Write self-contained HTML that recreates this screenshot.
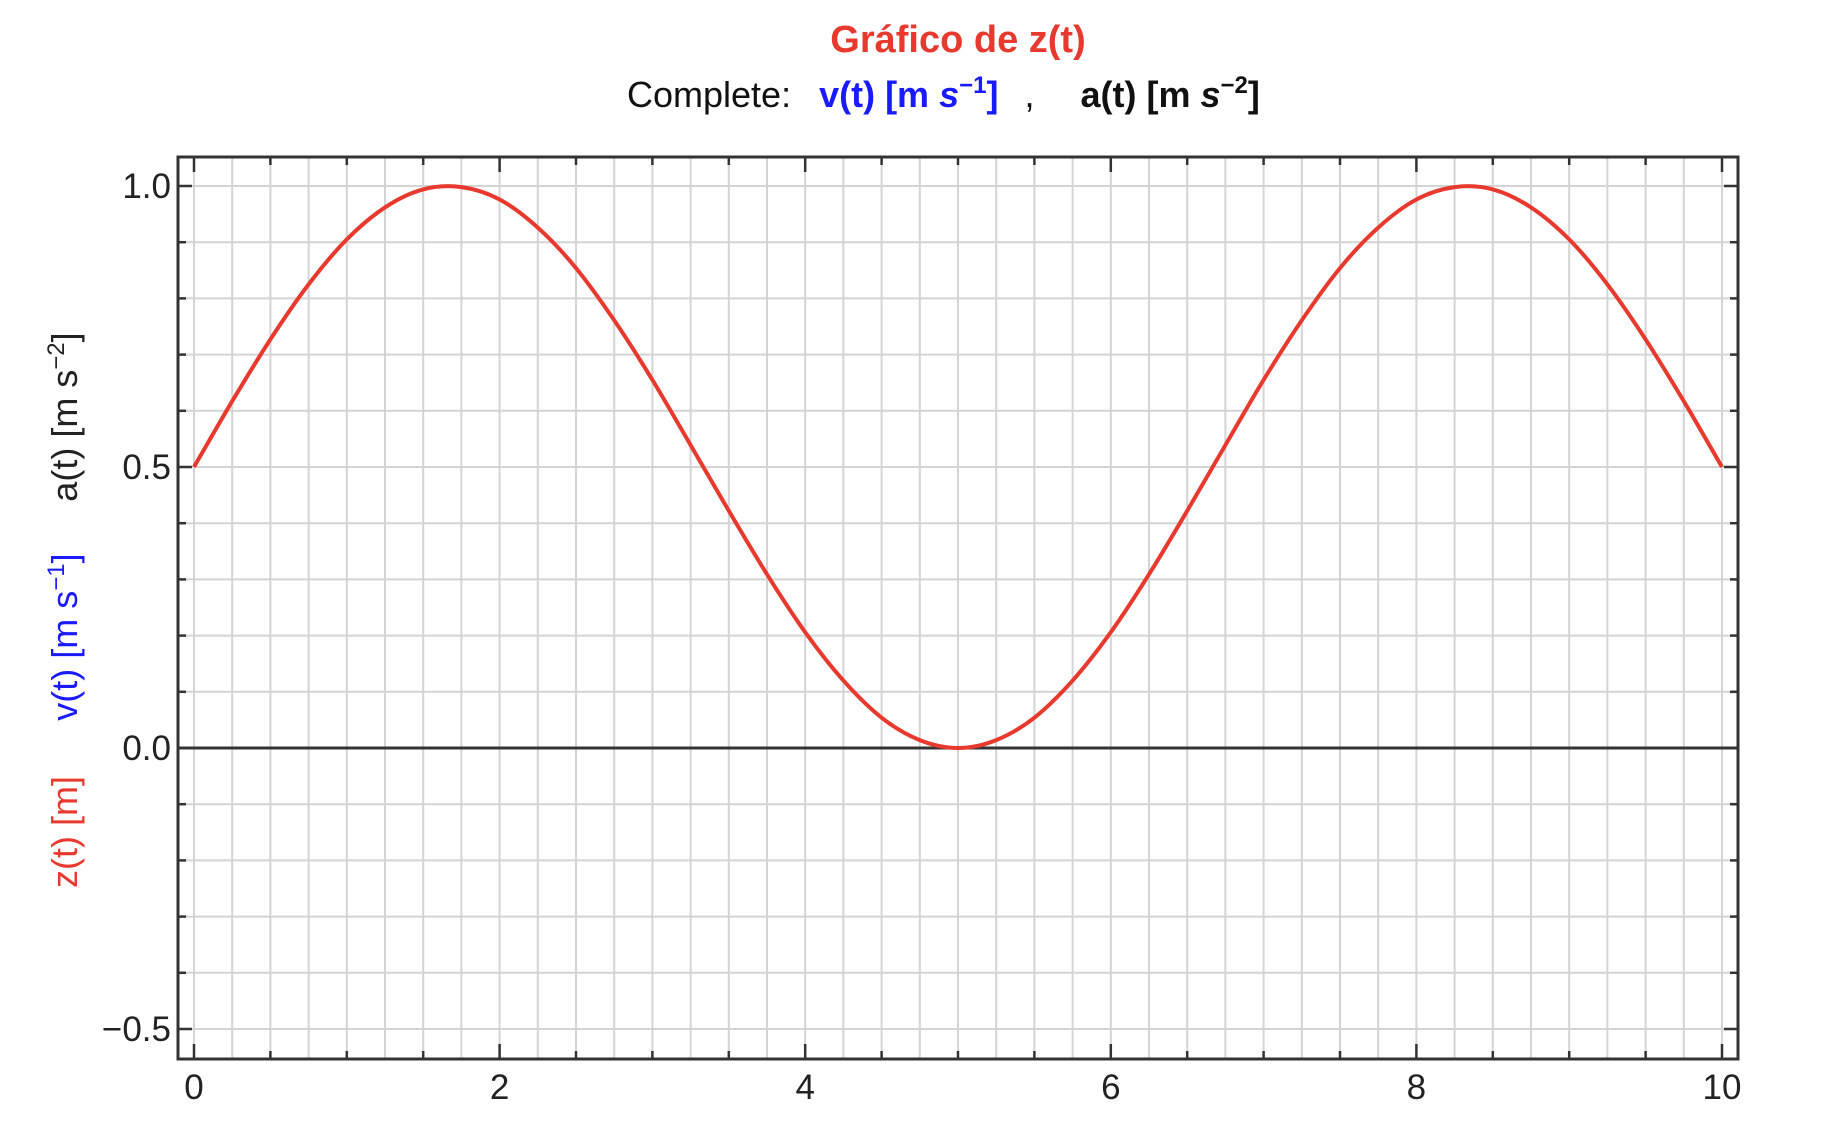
<!DOCTYPE html>
<html><head><meta charset="utf-8"><style>
html,body{margin:0;padding:0;background:#fff;}
svg{display:block;font-family:"Liberation Sans",Arial,sans-serif;}
</style></head><body>
<svg id="chart" width="1826" height="1126" viewBox="0 0 1826 1126" xmlns="http://www.w3.org/2000/svg">
<text x="958" y="52" text-anchor="middle" font-size="38" font-weight="bold" fill="#e8392e">Gráfico de z(t)</text>
<text x="627" y="107" font-size="36" fill="#111">Complete:<tspan dx="28" font-weight="bold" fill="#1a1aff">v(t) [m <tspan font-style="italic">s</tspan><tspan dy="-14" font-size="24">−1</tspan><tspan dy="14">]</tspan></tspan><tspan dx="26">,</tspan><tspan dx="46" font-weight="bold" fill="#111">a(t) [m <tspan font-style="italic">s</tspan><tspan dy="-14" font-size="24">−2</tspan><tspan dy="14">]</tspan></tspan></text>
<g id="grid"></g>
<g id="ticks"></g>
<g id="labels"></g>
<line id="zero" stroke="#333" stroke-width="3"/>
<path id="curve" fill="none" stroke="#e8392e" stroke-width="4" stroke-linejoin="round"/>
<rect x="178" y="157" width="1560" height="902" fill="none" stroke="#333" stroke-width="3"/>
<g font-size="36">
<text transform="translate(77,417) rotate(-90)" text-anchor="middle" fill="#222">a(t) [m s<tspan dy="-13" font-size="24">−2</tspan><tspan dy="13">]</tspan></text>
<text transform="translate(77,637) rotate(-90)" text-anchor="middle" fill="#1a1aff">v(t) [m s<tspan dy="-13" font-size="24">−1</tspan><tspan dy="13">]</tspan></text>
<text transform="translate(77,832) rotate(-90)" text-anchor="middle" fill="#e8392e">z(t) [m]</text>
</g>
</svg>
<script>
const tValues = [0,0.25,0.5,0.75,1,1.25,1.5,1.75,2,2.25,2.5,2.75,3,3.25,3.5,3.75,4,4.25,4.5,4.75,5,5.25,5.5,5.75,6,6.25,6.5,6.75,7,7.25,7.5,7.75,8,8.25,8.5,8.75,9,9.25,9.5,9.75,10];
const zValues = [0.5,0.617,0.727,0.825,0.905,0.962,0.994,0.998,0.976,0.926,0.854,0.761,0.655,0.539,0.422,0.309,0.206,0.120,0.054,0.014,0,0.014,0.054,0.120,0.206,0.309,0.422,0.539,0.655,0.761,0.854,0.926,0.976,0.998,0.994,0.962,0.905,0.825,0.727,0.617,0.5];
const xTickLabels = ["0","2","4","6","8","10"];
const yTickLabels = ["−0.5","0.0","0.5","1.0"];
const yTickValues = [-0.5,0,0.5,1];

const NS="http://www.w3.org/2000/svg";
const L=178,R=1738,T=157,B=1059;
function sx(t){return 194+(t-0)*152.8;}
function sy(v){return 748-v*562;}
function mk(tag,attrs,parent){const e=document.createElementNS(NS,tag);for(const k in attrs)e.setAttribute(k,attrs[k]);parent.appendChild(e);return e;}
const grid=document.getElementById('grid'),ticks=document.getElementById('ticks'),labels=document.getElementById('labels');
for(let i=0;i<=40;i++){const x=sx(i*0.25);
 const g=mk('line',{x1:x,x2:x,y1:T,y2:B,stroke:'#d4d4d4','stroke-width':2},grid);
 
 }
for(let i=-5;i<=10;i++){const y=sy(i/10);
 const g=mk('line',{x1:L,x2:R,y1:y,y2:y,stroke:'#d4d4d4','stroke-width':2},grid);
 
 }
for(let i=0;i<=20;i++){const x=sx(i*0.5);const len=(i%4===0)?15:8;
 [[B,B-len],[T,T+len]].forEach(p=>{const tk=mk('line',{x1:x,x2:x,y1:p[0],y2:p[1],stroke:'#333','stroke-width':2.5},ticks);
 
 });}
for(let i=-5;i<=10;i++){const y=sy(i/10);const len=(i%5===0)?14:8;
 [[L,L+len],[R,R-len]].forEach(p=>{const tk=mk('line',{x1:p[0],x2:p[1],y1:y,y2:y,stroke:'#333','stroke-width':2.5},ticks);
 
 });}
xTickLabels.forEach(s=>{const t=mk('text',{x:sx(parseFloat(s)),y:1099,'text-anchor':'middle','font-size':35,fill:'#222'},labels);t.textContent=s;
 
 });
yTickLabels.forEach((s,i)=>{const t=mk('text',{x:171,y:sy(yTickValues[i])+12,'text-anchor':'end','font-size':35,fill:'#222'},labels);t.textContent=s;
 
 });
const z=document.getElementById('zero');z.setAttribute('x1',L);z.setAttribute('x2',R);z.setAttribute('y1',sy(0));z.setAttribute('y2',sy(0));
const pts=tValues.map((t,i)=>[sx(t),sy(zValues[i])]);
let d='M'+pts[0][0]+','+pts[0][1];
for(let i=0;i<pts.length-1;i++){const p0=pts[Math.max(0,i-1)],p1=pts[i],p2=pts[i+1],p3=pts[Math.min(pts.length-1,i+2)];
 const c1=[p1[0]+(p2[0]-p0[0])/6,p1[1]+(p2[1]-p0[1])/6],c2=[p2[0]-(p3[0]-p1[0])/6,p2[1]-(p3[1]-p1[1])/6];
 d+=' C'+c1[0].toFixed(1)+','+c1[1].toFixed(1)+' '+c2[0].toFixed(1)+','+c2[1].toFixed(1)+' '+p2[0].toFixed(1)+','+p2[1].toFixed(1);}
document.getElementById('curve').setAttribute('d',d);
</script>
</body></html>
